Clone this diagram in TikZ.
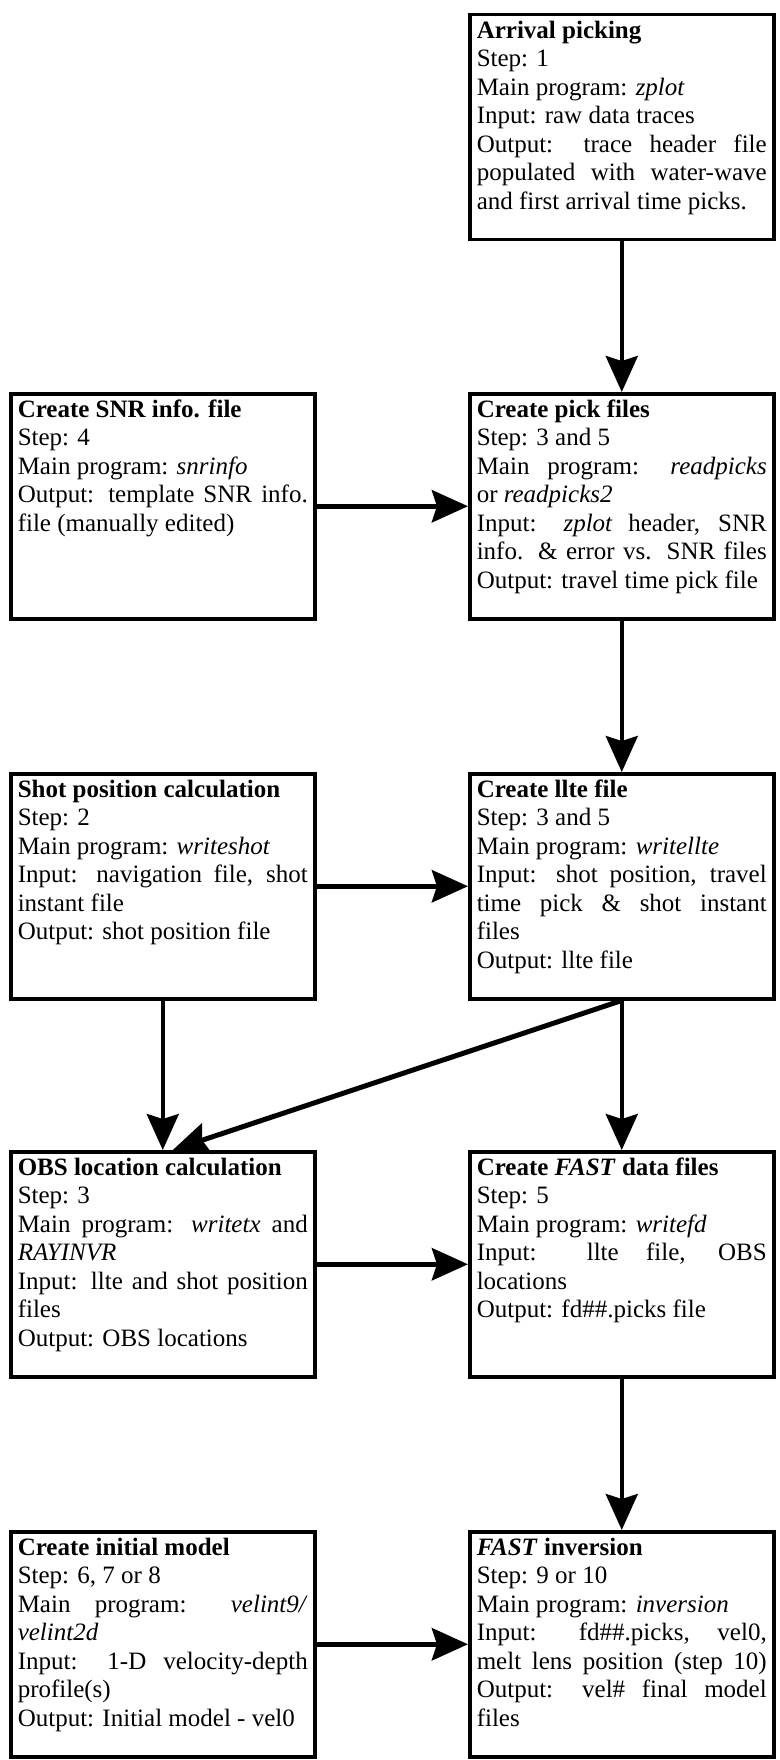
\documentclass[tikz,border=0pt]{standalone}
\usepackage{fontspec}
\setmainfont{Liberation Serif}
\usepackage{tikz}
\usetikzlibrary{arrows.meta, positioning}

\newcommand{\jline}[1]{\makebox[\linewidth][s]{#1}}
\newcommand{\stagetext}[2]{\begin{minipage}[t][213pt][t]{290pt}\textbf{#1}\\#2\end{minipage}}

\begin{document}
\begin{tikzpicture}[x=1pt, y=-1pt,
    stage/.style={draw, line width=3.5pt, anchor=north west, inner xsep=7pt, inner ysep=6pt,
      minimum width=304pt, minimum height=225pt, font=\fontsize{25}{28.5}\selectfont},
    flow/.style={-{Stealth[length=36pt, width=32pt, inset=5pt]}, line width=4pt},
    across/.style={flow, line width=5.5pt}]
        \useasboundingbox (0,0) rectangle (779,1760);

        % right column stages
        \node[stage] (arrival) at (468,13) {\stagetext{Arrival picking}{Step: 1\\
            Main program: \textit{zplot}\\
            Input: raw data traces\\
            \jline{Output: trace header file}\\
            \jline{populated with water-wave}\\
            and first arrival time picks.}};
        \node[stage] (pickfiles) at (468,392) {\stagetext{Create pick files}{Step: 3 and 5\\
            \jline{Main program: \textit{readpicks}}\\
            or \textit{readpicks2}\\
            \jline{Input: \textit{zplot} header, SNR}\\
            \jline{info. \& error vs. SNR files}\\
            Output: travel time pick file}};
        \node[stage] (lltefile) at (468,772) {\stagetext{Create llte file}{Step: 3 and 5\\
            Main program: \textit{writellte}\\
            \jline{Input: shot position, travel}\\
            \jline{time pick \& shot instant}\\
            files\\
            Output: llte file}};
        \node[stage] (fastdata) at (468,1150) {\stagetext{Create \textit{FAST} data files}{Step: 5\\
            Main program: \textit{writefd}\\
            \jline{Input: llte file, OBS}\\
            locations\\
            Output: fd\#\#.picks file}};
        \node[stage] (fastinv) at (468,1530) {\stagetext{\textit{FAST} inversion}{Step: 9 or 10\\
            Main program: \textit{inversion}\\
            \jline{Input: fd\#\#.picks, vel0,}\\
            \jline{melt lens position (step 10)}\\
            \jline{Output: vel\# final model}\\
            files}};

        % left column stages
        \node[stage] (snrinfo) at (9,392) {\stagetext{Create SNR info. file}{Step: 4\\
            Main program: \textit{snrinfo}\\
            \jline{Output: template SNR info.}\\
            file (manually edited)}};
        \node[stage] (shotpos) at (9,772) {\stagetext{Shot position calculation}{Step: 2\\
            Main program: \textit{writeshot}\\
            \jline{Input: navigation file, shot}\\
            instant file\\
            Output: shot position file}};
        \node[stage] (obsloc) at (9,1150) {\stagetext{OBS location calculation}{Step: 3\\
            \jline{Main program: \textit{writetx} and}\\
            \textit{RAYINVR}\\
            \jline{Input: llte and shot position}\\
            files\\
            Output: OBS locations}};
        \node[stage] (initmodel) at (9,1530) {\stagetext{Create initial model}{Step: 6, 7 or 8\\
            \jline{Main program: \textit{velint9/}}\\
            \textit{velint2d}\\
            \jline{Input: 1-D velocity-depth}\\
            profile(s)\\
            Output: Initial model - vel0}};

        % downward flow
        \draw[flow] (arrival.south) -- (pickfiles.north);
        \draw[flow] (pickfiles.south) -- (lltefile.north);
        \draw[flow] (lltefile.south) -- (fastdata.north);
        \draw[flow] (fastdata.south) -- (fastinv.north);
        \draw[flow] (shotpos.south) -- (obsloc.north);
        \draw[flow, line width=5pt] (lltefile.south) -- ([xshift=10pt]obsloc.north);

        % side inputs
        \draw[across] (snrinfo.east) -- (pickfiles.west);
        \draw[across] (shotpos.east) -- (lltefile.west);
        \draw[across] (obsloc.east) -- (fastdata.west);
        \draw[across] (initmodel.east) -- (fastinv.west);
    \end{tikzpicture}
\end{document}
